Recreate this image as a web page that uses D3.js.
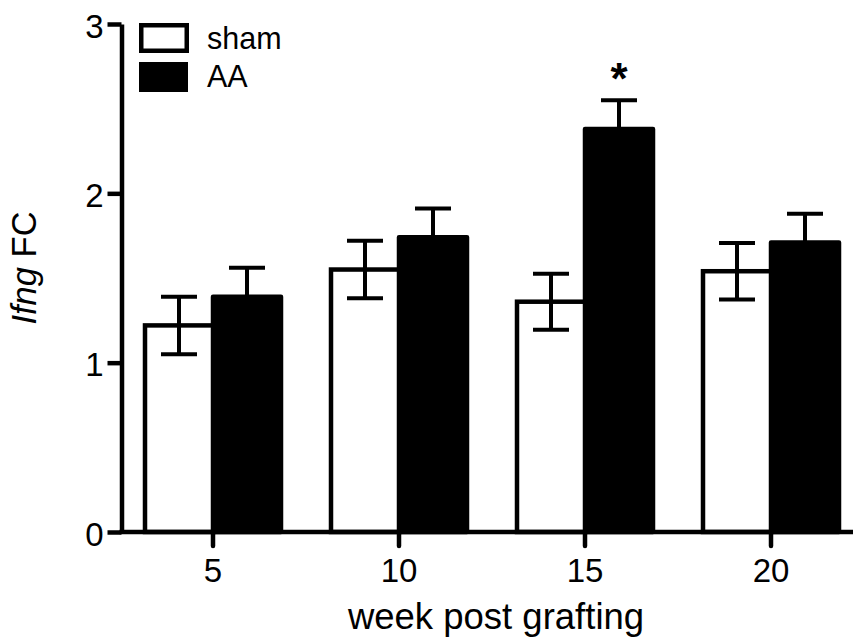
<!DOCTYPE html>
<html>
<head>
<meta charset="utf-8">
<script src="https://cdn.jsdelivr.net/npm/d3@7"></script>
<style>
  html, body { margin: 0; padding: 0; background: #fff; }
  svg { display: block; font-family: "Liberation Sans", Arial, Helvetica, sans-serif; }
</style>
</head>
<body>
<svg id="chart" width="853" height="639"></svg>
<script>
// ---- data ----
const categories = ["5", "10", "15", "20"];
const series = ["sham", "AA"];
const shamValues = [1.22, 1.55, 1.36, 1.54];
const shamErrors = [0.17, 0.17, 0.165, 0.167];
const aaValues = [1.39, 1.74, 2.38, 1.71];
const aaErrors = [0.17, 0.17, 0.17, 0.17];
const yTicks = [0, 1, 2, 3];
const significant = ["", "", "*", ""];
const xTitle = "week post grafting";
const yTitleItalic = "Ifng";
const yTitleRest = " FC";

// ---- layout ----
const svg = d3.select("#chart");
const y = d3.scaleLinear().domain([0, 3]).range([532, 24]);
const x = d3.scaleBand().domain(categories).range([120, 864]).padding(0);
const barW = 68;
const sw = 4.5;
const capHalf = 18;

const rows = categories.map((c, i) => ({
  cat: c,
  sham: shamValues[i], shamErr: shamErrors[i],
  aa: aaValues[i], aaErr: aaErrors[i],
  sig: significant[i]
}));
const center = c => x(c) + x.bandwidth() / 2;

// bars
const g = svg.append("g");
g.selectAll("rect.aa").data(rows).enter().append("rect")
  .attr("class", "aa")
  .attr("x", d => center(d.cat))
  .attr("y", d => y(d.aa))
  .attr("width", barW)
  .attr("height", d => y(0) - y(d.aa))
  .attr("fill", "#000").attr("stroke", "#000").attr("stroke-width", sw)
  .attr("stroke-linejoin", "round");
g.selectAll("rect.sham").data(rows).enter().append("rect")
  .attr("class", "sham")
  .attr("x", d => center(d.cat) - barW)
  .attr("y", d => y(d.sham))
  .attr("width", barW)
  .attr("height", d => y(0) - y(d.sham))
  .attr("fill", "#fff").attr("stroke", "#000").attr("stroke-width", sw);

// error bars
function errBar(sel, cx, v, e) {
  sel.append("line").attr("x1", cx).attr("x2", cx).attr("y1", y(v + e)).attr("y2", y(v - e));
  sel.append("line").attr("x1", cx - capHalf).attr("x2", cx + capHalf).attr("y1", y(v + e)).attr("y2", y(v + e));
  sel.append("line").attr("x1", cx - capHalf).attr("x2", cx + capHalf).attr("y1", y(v - e)).attr("y2", y(v - e));
}
const eg = svg.append("g").attr("stroke", "#000").attr("stroke-width", 4);
rows.forEach(d => {
  errBar(eg, center(d.cat) - barW / 2, d.sham, d.shamErr);
  errBar(eg, center(d.cat) + barW / 2, d.aa, d.aaErr);
});

// significance
svg.append("g").selectAll("text").data(rows.filter(d => d.sig)).enter().append("text")
  .attr("x", d => center(d.cat) + barW / 2)
  .attr("y", d => y(d.aa + d.aaErr) - 6)
  .attr("text-anchor", "middle")
  .attr("font-size", 44).attr("font-weight", "bold")
  .text(d => d.sig);

// axes
const yAxis = d3.axisLeft(y).tickValues(yTicks).tickFormat(d3.format("d")).tickSize(14).tickSizeOuter(0).tickPadding(4);
const ya = svg.append("g").attr("transform", "translate(121.5,0)").call(yAxis);
ya.select(".domain").attr("stroke-width", sw).attr("stroke", "#000");
ya.selectAll(".tick line").attr("stroke-width", sw).attr("stroke", "#000");
ya.selectAll(".tick text").attr("font-size", 33).attr("fill", "#000").attr("dy", "0.4em")
  .attr("font-family", "'Liberation Sans', Arial, sans-serif");

const xAxis = d3.axisBottom(x).tickSize(14).tickSizeOuter(0).tickPadding(13);
const xa = svg.append("g").attr("transform", "translate(0,532)").call(xAxis);
xa.select(".domain").remove();
xa.append("line").attr("x1", 119.5).attr("x2", 864).attr("y1", 0).attr("y2", 0)
  .attr("stroke", "#000").attr("stroke-width", sw);
xa.selectAll(".tick line").attr("stroke-width", sw).attr("stroke", "#000").attr("stroke-linecap", "round");
xa.selectAll(".tick text").attr("font-size", 33).attr("fill", "#000")
  .attr("font-family", "'Liberation Sans', Arial, sans-serif");

// axis titles
svg.append("text").attr("x", 496).attr("y", 629).attr("text-anchor", "middle")
  .attr("font-size", 36.5).text(xTitle);
const yt = svg.append("text").attr("transform", "translate(36,268) rotate(-90)")
  .attr("text-anchor", "middle").attr("font-size", 34.5);
yt.append("tspan").attr("font-style", "italic").text(yTitleItalic);
yt.append("tspan").text(yTitleRest);

// legend
const lg = svg.append("g");
lg.append("rect").attr("x", 141.25).attr("y", 25.25).attr("width", 45.5).attr("height", 25.5)
  .attr("fill", "#fff").attr("stroke", "#000").attr("stroke-width", sw);
lg.append("rect").attr("x", 139).attr("y", 62).attr("width", 49).attr("height", 30)
  .attr("fill", "#000");
lg.append("text").attr("x", 207).attr("y", 49).attr("font-size", 30.5).text(series[0]);
lg.append("text").attr("x", 207).attr("y", 87).attr("font-size", 30.5).text(series[1]);
</script>
</body>
</html>
